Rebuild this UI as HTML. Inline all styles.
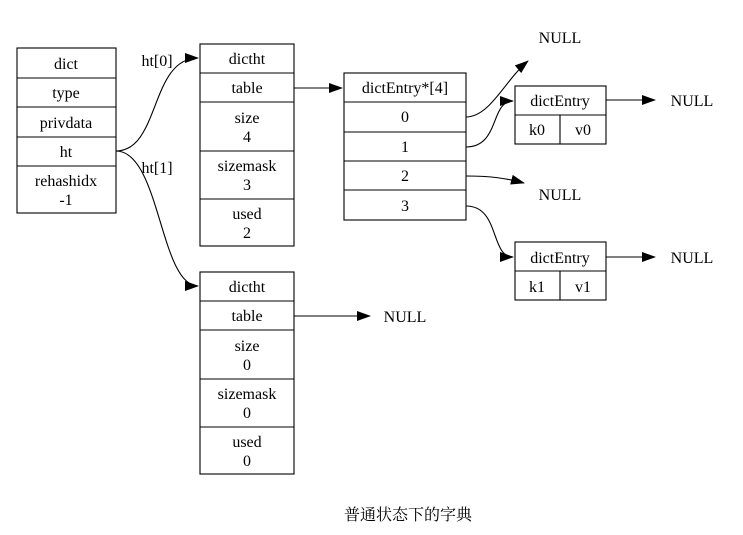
<!DOCTYPE html>
<html><head><meta charset="utf-8"><style>
body{margin:0;background:#fff}
</style></head><body>
<svg width="743" height="530" viewBox="0 0 743 530" xmlns="http://www.w3.org/2000/svg">
<defs><marker id="a" markerWidth="14" markerHeight="10" refX="13" refY="5" orient="auto" markerUnits="userSpaceOnUse"><path d="M0,0L14,5L0,10z" fill="#000"/></marker></defs>
<g fill="none" stroke="#000" stroke-width="1.1">
<rect x="17" y="48" width="99" height="165"/>
<path d="M17 78H116M17 107H116M17 137H116M17 166H116"/>
<rect x="200" y="44" width="94" height="202"/>
<path d="M200 73H294M200 102H294M200 151H294M200 199H294"/>
<rect x="200" y="272" width="94" height="202"/>
<path d="M200 301H294M200 330H294M200 379H294M200 427H294"/>
<rect x="344" y="73" width="122" height="147"/>
<path d="M344 102H466M344 132H466M344 161H466M344 190H466"/>
<rect x="515" y="86" width="91" height="58"/>
<path d="M515 115H606M560 115V144"/>
<rect x="515" y="242" width="91" height="58"/>
<path d="M515 271H606M560 271V300"/>
<path d="M116 151C160 151 150 58 198 58" marker-end="url(#a)"/>
<path d="M116 151C160 151 160 286 198 286" marker-end="url(#a)"/>
<path d="M294 88H342" marker-end="url(#a)"/>
<path d="M294 316H370" marker-end="url(#a)"/>
<path d="M466 117C490 117 505 80 528 61" marker-end="url(#a)"/>
<path d="M466 147C500 147 490 101 513 101" marker-end="url(#a)"/>
<path d="M466 176C490 176 505 178 524 183" marker-end="url(#a)"/>
<path d="M466 206C500 206 490 257 513 257" marker-end="url(#a)"/>
<path d="M606 100H655" marker-end="url(#a)"/>
<path d="M606 257H655" marker-end="url(#a)"/>
</g>
<g text-anchor="middle" font-family="'Liberation Serif','Times New Roman','DejaVu Serif','Noto Serif CJK SC',serif" font-size="16" fill="#000">
<text x="66" y="69">dict</text><text x="66" y="98">type</text><text x="66" y="128">privdata</text><text x="66" y="157">ht</text>
<text x="66" y="186">rehashidx</text><text x="66" y="205">-1</text>
<text x="247" y="64">dictht</text><text x="247" y="93">table</text>
<text x="247" y="123">size</text><text x="247" y="142">4</text>
<text x="247" y="171">sizemask</text><text x="247" y="190">3</text>
<text x="247" y="219">used</text><text x="247" y="238">2</text>
<text x="247" y="292">dictht</text><text x="247" y="321">table</text>
<text x="247" y="351">size</text><text x="247" y="370">0</text>
<text x="247" y="399">sizemask</text><text x="247" y="418">0</text>
<text x="247" y="447">used</text><text x="247" y="466">0</text>
<text x="405" y="93">dictEntry*[4]</text><text x="405" y="122">0</text><text x="405" y="152">1</text><text x="405" y="181">2</text><text x="405" y="211">3</text>
<text x="560" y="106">dictEntry</text><text x="537" y="135">k0</text><text x="583" y="135">v0</text>
<text x="560" y="263">dictEntry</text><text x="537" y="292">k1</text><text x="583" y="292">v1</text>
<text x="560" y="43">NULL</text><text x="560" y="200">NULL</text>
<text x="692" y="106">NULL</text><text x="692" y="263">NULL</text><text x="405" y="322">NULL</text>
<text x="157" y="66">ht[0]</text><text x="157" y="173">ht[1]</text>
<text x="408" y="520">普通状态下的字典</text>
</g>
</svg>
</body></html>
